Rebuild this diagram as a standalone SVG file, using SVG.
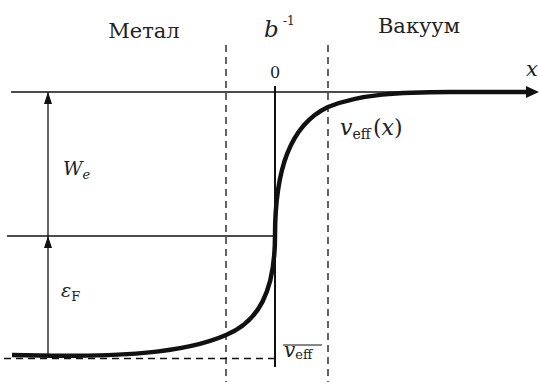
<svg xmlns="http://www.w3.org/2000/svg" width="539" height="382" viewBox="0 0 539 382">
<style>
text{font-family:'DejaVu Serif','Liberation Serif',serif;fill:#222}
.i{font-style:italic}
.ln{stroke:#111;fill:none}
.dash{stroke:#111;stroke-width:1.3;stroke-dasharray:7,5;fill:none}
</style>
<defs>
<marker id="ah" viewBox="0 0 12 8" refX="12" refY="4" markerWidth="12" markerHeight="8" markerUnits="userSpaceOnUse" orient="auto">
<path d="M0,0 L12,4 L0,8 Z" fill="#111"/>
</marker>
</defs>
<g id="guides">
<line class="dash" x1="226" y1="45" x2="226" y2="382"/>
<line class="dash" x1="328" y1="45" x2="328" y2="382"/>
<line class="dash" x1="4" y1="358.5" x2="275" y2="358.5"/>
<line class="ln" x1="11" y1="92" x2="530" y2="92" stroke-width="1.6"/>
<line class="ln" x1="7" y1="236" x2="275" y2="236" stroke-width="1.3"/>
<line class="ln" x1="275" y1="86" x2="275" y2="367" stroke-width="2"/>
</g>
<g id="connectors">
<line class="ln" x1="48" y1="236" x2="48" y2="92" stroke-width="1.3" marker-end="url(#ah)"/>
<line class="ln" x1="48" y1="356" x2="48" y2="236" stroke-width="1.3" marker-end="url(#ah)"/>
<path class="ln" stroke-width="4.5" stroke-linecap="butt" d="M12,355 C120,358 185,353 226,335 C258,322 275,292 275,236 C275,170 290,125 328,107 C360,94 400,92 450,92 L528,92"/>
<polygon points="539,92 526,86 526,98" fill="#111"/>
</g>
<g id="labels">
<text x="144" y="38" font-size="21" text-anchor="middle">Метал</text>
<text x="419" y="33" font-size="21" text-anchor="middle">Вакуум</text>
<text class="i" x="264" y="37" font-size="23">b</text>
<text x="283" y="25" font-size="12">-1</text>
<text x="275" y="78" font-size="16" text-anchor="middle">0</text>
<text class="i" x="526" y="76" font-size="21">x</text>
<text x="340" y="135" font-size="22"><tspan class="i">v</tspan><tspan font-size="14" dy="4">eff</tspan><tspan x="373" dy="-4">(</tspan><tspan class="i">x</tspan><tspan>)</tspan></text>
<text x="63" y="175" font-size="19"><tspan class="i">W</tspan><tspan class="i" font-size="13" dy="4">e</tspan></text>
<text x="61" y="297" font-size="19"><tspan class="i">ε</tspan><tspan font-size="13" dy="4">F</tspan></text>
<g id="veff-bar">
<line class="ln" x1="283" y1="345" x2="322" y2="345" stroke-width="1.2"/>
<text x="284" y="357" font-size="20"><tspan class="i">v</tspan><tspan font-size="13" dy="2">eff</tspan></text>
</g>
</g>
</svg>
